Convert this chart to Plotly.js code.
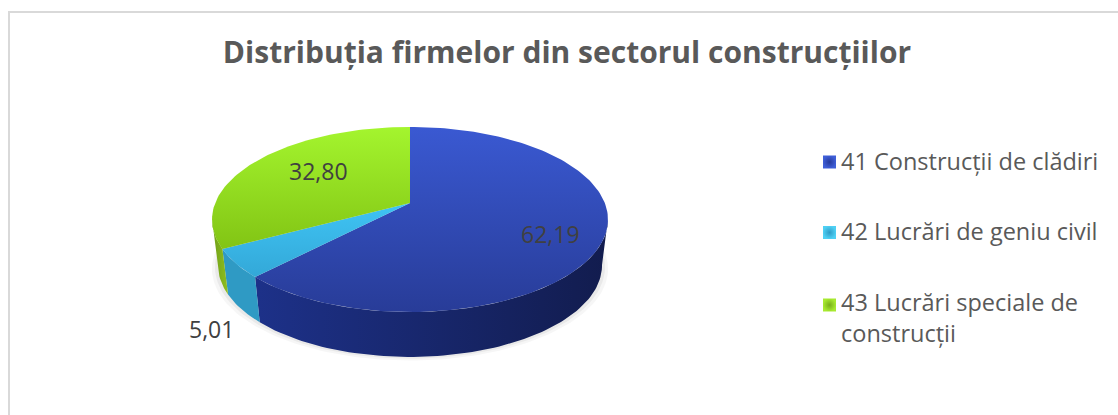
<!DOCTYPE html>
<html><head><meta charset="utf-8">
<script src="https://cdn.plot.ly/plotly-3.0.1.min.js"></script>
<style>html,body{margin:0;padding:0;background:#fff}#c{width:1118px;height:415px}</style>
</head><body><div id="c"></div>
<script>
const categories = ['41 Construcții de clădiri','42 Lucrări de geniu civil','43 Lucrări speciale de<br>construcții'];
const values = [62.19, 5.01, 32.80];
const valueLabels = ['62,19','5,01','32,80'];
const titleText = 'Distribuția firmelor din sectorul construcțiilor';
const topColors = [['#283c98','#3a59d2'],['#33a8d8','#3fc4f4'],['#82c414','#a4f52e']];
const wallColors = [['#1d3189','#121c4e'],['#2f9ac4','#2f9ac4'],['#6f9f18','#8fbf20']];
const legendCentre = ['#3f5fd8','#4fd0f4','#a8ea30'];
const legendEdge = ['#263a9c','#2f9cc6','#78ae1a'];

// pie geometry (tilted disc under a slight perspective)
const CX = 410, CY = 203, RX = 194.8, A = 89.6, K = 0.178, DEPTH = 45, BX = 0.97, BY = 0.99;
const project = (deg, lower) => {
  const t = deg * Math.PI / 180, u = Math.sin(t), v = Math.cos(t), w = 1 + K * v;
  const s = lower ? BX : 1, sy = lower ? BY : 1;
  return [CX + s * RX * u / w, CY - sy * A * v / w + (lower ? DEPTH + 1 : 0)];
};
const arc = (a, b, lower) => {
  const pts = [], n = Math.max(2, Math.ceil(Math.abs(b - a) / 1.5));
  for (let i = 0; i <= n; i++) pts.push(project(a + (b - a) * i / n, lower));
  return pts;
};
const total = values.reduce((p, c) => p + c, 0);
let acc = 0;
const slices = values.map(v => { const s = acc; acc += v; return [s / total * 360, acc / total * 360]; });
const silR = 100, silL = 260;

const traces = [];
const poly = (pts, colors, type) => traces.push({
  type: 'scatter', mode: 'lines', x: pts.map(p => p[0]), y: pts.map(p => p[1]),
  fill: 'toself', line: {width: 0}, hoverinfo: 'skip', showlegend: false,
  fillcolor: colors[0],
  fillgradient: {type, colorscale: [[0, colors[0]], [1, colors[1]]]}
});

// soft shadow under the disc
[[6, 'rgba(0,0,0,0.035)'], [3, 'rgba(0,0,0,0.05)']].forEach(([g, c]) => {
  const pts = arc(0, 360, true).map(p => [CX + (p[0] - CX) * (1 + g / 190), p[1] + g * 0.6]);
  traces.push({type: 'scatter', mode: 'lines', x: pts.map(p => p[0]), y: pts.map(p => p[1]), fill: 'toself',
    fillcolor: c, line: {width: 0}, hoverinfo: 'skip', showlegend: false});
});
// side walls
slices.forEach(([a, b], i) => {
  const lo = Math.max(a, silR), hi = Math.min(b, silL);
  if (hi <= lo) return;
  poly(arc(lo, hi, false).concat(arc(hi, lo, true)), wallColors[i], 'horizontal');
});
// top faces
slices.forEach(([a, b], i) => {
  poly([[CX, CY]].concat(arc(a, b, false), [[CX, CY]]), topColors[i], 'vertical');
});
// legend swatches
const legY = [162, 232.5, 305];
traces.push({type: 'scatter', mode: 'markers', x: [829.5, 829.5, 829.5], y: legY, hoverinfo: 'skip', showlegend: false,
  marker: {symbol: 'square', size: 13, color: legendCentre, gradient: {type: 'radial', color: legendEdge}, line: {width: 0}}});

const FONT = 'Open Sans';
const ann = (x, y, text, size, opts) => Object.assign({x, y, xref: 'x', yref: 'y', text, showarrow: false,
  font: {family: FONT, size, color: '#595959'}, xanchor: 'left', yanchor: 'middle'}, opts || {});
const lab = {family: FONT, size: 23, color: '#404040'};
const annotations = [
  ann(839, 161, categories[0], 23.5),
  ann(839, 231, categories[1], 23.5),
  ann(839, 284, categories[2], 23.5, {yanchor: 'top', align: 'left'}),
  ann(550, 234, valueLabels[0], 23, {xanchor: 'center', font: lab}),
  ann(211, 329, valueLabels[1], 23, {xanchor: 'center', font: lab}),
  ann(318, 171, valueLabels[2], 23, {xanchor: 'center', font: lab})
];

const hidden = {visible: false, fixedrange: true};
Plotly.newPlot('c', traces, {
  width: 1118, height: 415, margin: {l: 0, r: 0, t: 0, b: 0}, showlegend: false,
  paper_bgcolor: '#fff', plot_bgcolor: '#fff',
  title: {text: '<b>' + titleText + '</b>', font: {family: FONT, size: 30, color: '#595959'},
    x: 567 / 1118, xanchor: 'center', y: 1 - 52 / 415, yanchor: 'middle'},
  xaxis: Object.assign({range: [0, 1118]}, hidden),
  yaxis: Object.assign({range: [415, 0]}, hidden),
  shapes: [{type: 'rect', xref: 'x', yref: 'y', x0: 9, y0: 12, x1: 1130, y1: 430, line: {color: '#d9d9d9', width: 2}, fillcolor: 'rgba(0,0,0,0)', layer: 'below'}],
  annotations
}, {displayModeBar: false, staticPlot: true});
</script></body></html>
